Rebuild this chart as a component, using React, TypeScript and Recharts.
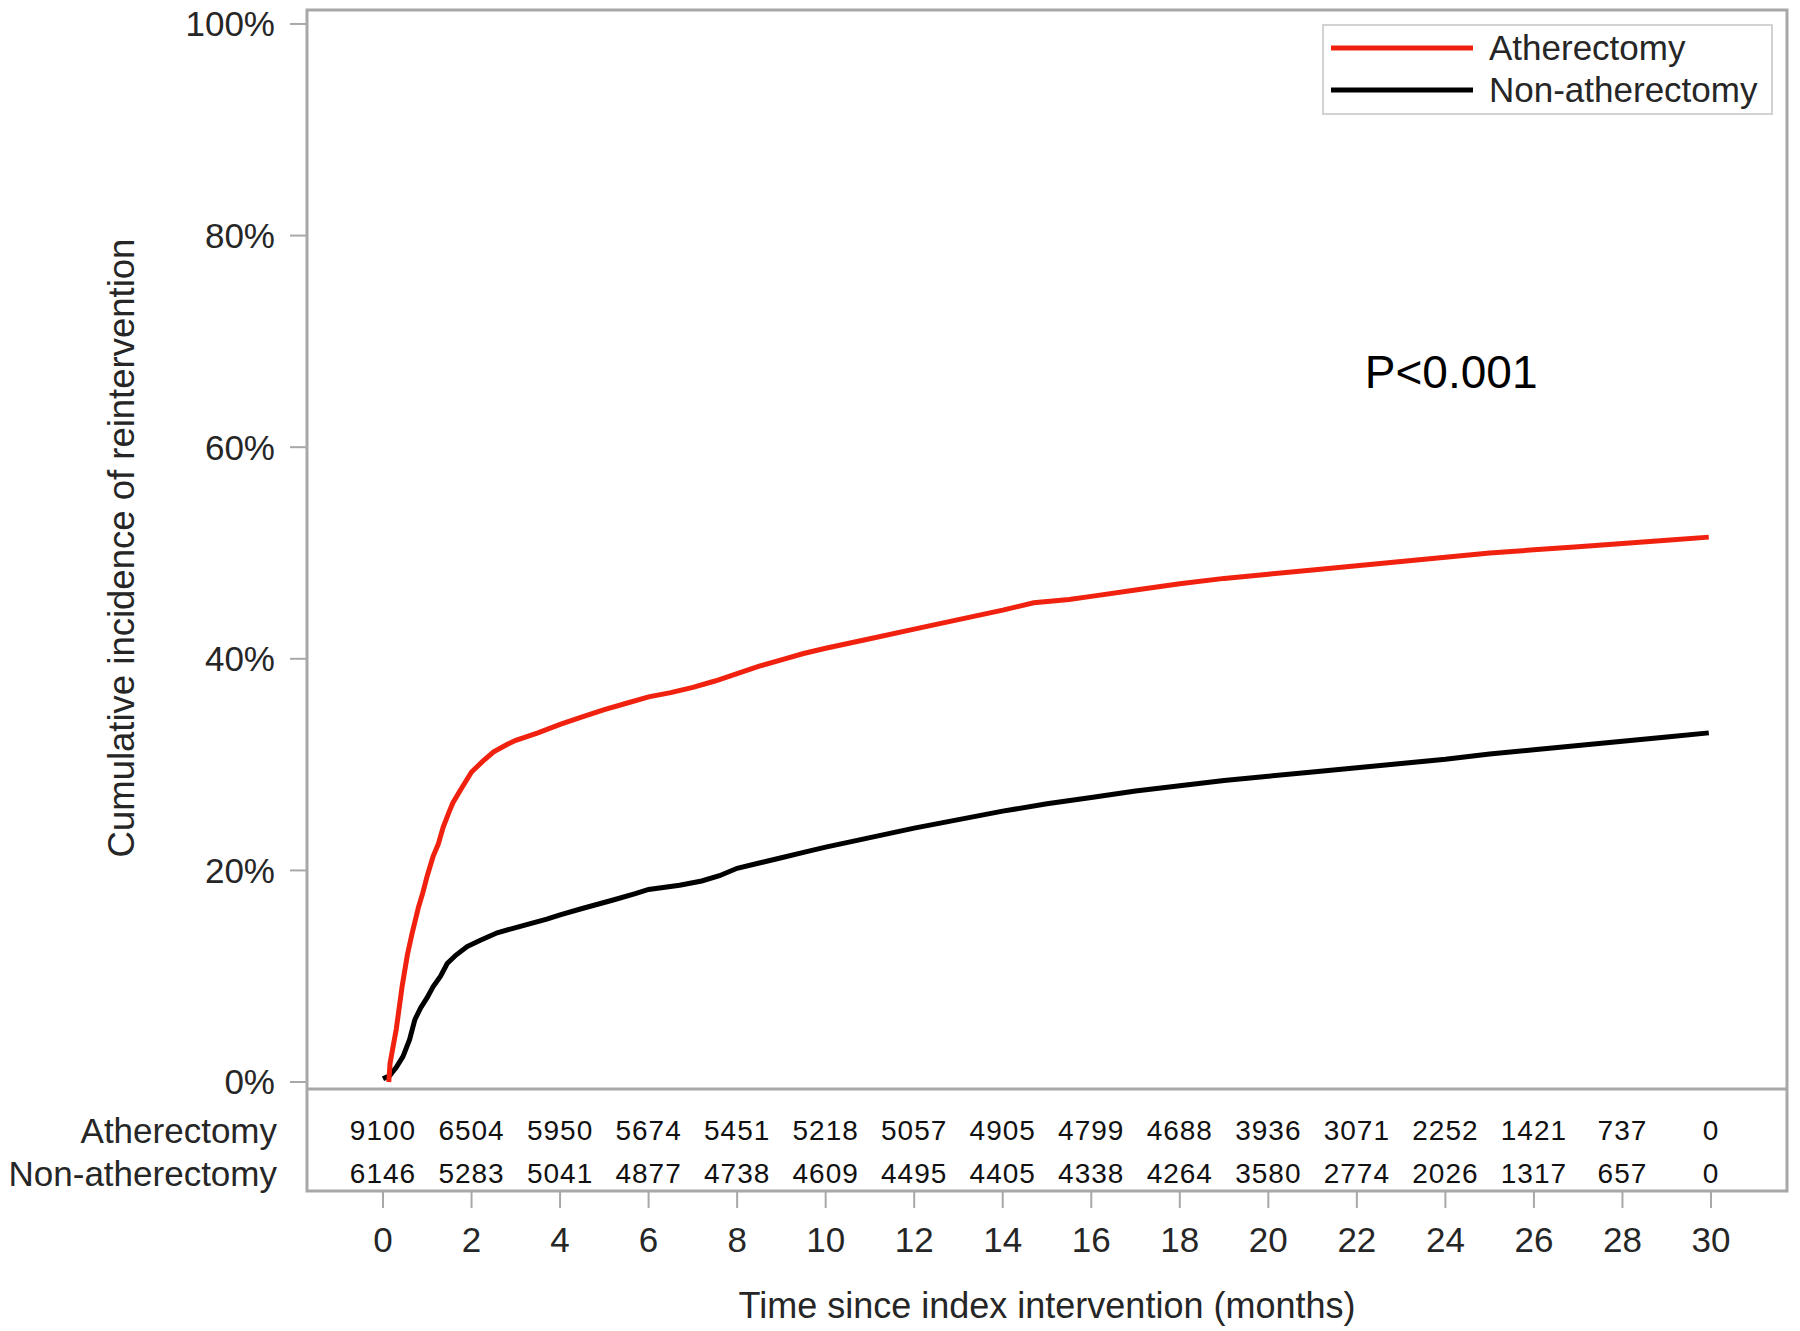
import React from "react";
import {
  ComposedChart,
  Line,
  XAxis,
  YAxis,
  Label,
  Legend,
  ReferenceArea,
  ReferenceLine,
  ReferenceDot,
} from "recharts";

// cumulative incidence curves (months, %)
const athTime = [0.13, 0.16, 0.3, 0.43, 0.55, 0.66, 0.8, 0.9, 1.0, 1.13, 1.25, 1.36, 1.5, 1.58, 1.75, 2.0, 2.25, 2.5, 2.8, 3.0, 3.5, 4, 4.5, 5, 5.5, 6, 6.5, 7, 7.5, 8, 8.5, 9, 9.5, 10, 11, 12, 13, 14, 14.7, 15.5, 16, 17, 18, 19, 20, 21, 22, 23, 24, 25, 26, 27, 28, 29, 29.95];
const athPct = [0.0, 1.8, 5.0, 9.0, 12.0, 14.1, 16.5, 17.9, 19.5, 21.3, 22.5, 24.1, 25.6, 26.4, 27.6, 29.3, 30.3, 31.2, 31.9, 32.3, 33.0, 33.8, 34.5, 35.2, 35.8, 36.4, 36.8, 37.3, 37.9, 38.6, 39.3, 39.9, 40.5, 41.0, 41.9, 42.8, 43.7, 44.6, 45.3, 45.6, 45.9, 46.5, 47.1, 47.6, 48.0, 48.4, 48.8, 49.2, 49.6, 50.0, 50.3, 50.6, 50.9, 51.2, 51.5];

const nonTime = [0, 0.15, 0.3, 0.45, 0.6, 0.72, 0.85, 1.0, 1.13, 1.3, 1.45, 1.65, 1.9, 2.2, 2.58, 3.0, 3.7, 4.0, 4.5, 5.2, 5.7, 6.0, 6.7, 7.2, 7.6, 8, 8.5, 9, 9.5, 10, 11, 12, 13, 14, 15, 16, 17, 18, 19, 20, 21, 22, 23, 24, 25, 26, 27, 28, 29, 29.95];
const nonPct = [0.3, 0.6, 1.4, 2.4, 4.0, 5.9, 7.0, 8.0, 9.0, 10.0, 11.2, 12.0, 12.8, 13.4, 14.1, 14.6, 15.4, 15.8, 16.4, 17.2, 17.8, 18.2, 18.6, 19.0, 19.5, 20.2, 20.7, 21.2, 21.7, 22.2, 23.1, 24.0, 24.8, 25.6, 26.3, 26.9, 27.5, 28.0, 28.5, 28.9, 29.3, 29.7, 30.1, 30.5, 31.0, 31.4, 31.8, 32.2, 32.6, 33.0];

// number at risk
const riskTimes = [0, 2, 4, 6, 8, 10, 12, 14, 16, 18, 20, 22, 24, 26, 28, 30];
const athRisk = [9100, 6504, 5950, 5674, 5451, 5218, 5057, 4905, 4799, 4688, 3936, 3071, 2252, 1421, 737, 0];
const nonRisk = [6146, 5283, 5041, 4877, 4738, 4609, 4495, 4405, 4338, 4264, 3580, 2774, 2026, 1317, 657, 0];

const yTicks = [0, 0.2, 0.4, 0.6, 0.8, 1];
const xTicks = riskTimes;

const FONT = "'Liberation Sans', Arial, Helvetica, sans-serif";
const FRAME = "#a8a8a8";
const RED = "#f0220f";
const TEXT = "#262626";

// axis ranges so the frame covers plot + at-risk table
const X_MIN = -1.717;
const X_MAX = 31.717;
const Y_MIN = -0.103;
const Y_MAX = 1.0132;
const DIVIDER = -0.0066;
const ROW_ATH = -0.0454;
const ROW_NON = -0.086;

const athData = athTime.map((t, i) => ({ t, v: athPct[i] / 100 }));
const nonData = nonTime.map((t, i) => ({ t, v: nonPct[i] / 100 }));

const LegendBox = () => (
  <div
    style={{
      width: 451,
      height: 91,
      boxSizing: "border-box",
      border: "2px solid #d2d2d2",
      background: "#fff",
      fontFamily: FONT,
      fontSize: 35,
      color: TEXT,
      paddingTop: 1,
    }}
  >
    {[
      { name: "Atherectomy", color: RED },
      { name: "Non-atherectomy", color: "#000" },
    ].map((r) => (
      <div key={r.name} style={{ display: "flex", alignItems: "center", height: 42 }}>
        <svg width={142} height={10} style={{ marginLeft: 7, marginRight: 16 }}>
          <line x1={0} y1={5} x2={142} y2={5} stroke={r.color} strokeWidth={5} />
        </svg>
        <span style={{ lineHeight: "42px", whiteSpace: "nowrap" }}>{r.name}</span>
      </div>
    ))}
  </div>
);

const numberLabel = (n: number) => (props: any) => (
  <text
    x={props.viewBox.x}
    y={props.viewBox.y}
    textAnchor="middle"
    dominantBaseline="central"
    fontFamily={FONT}
    fontSize={28}
    letterSpacing={1}
    fill="#111"
  >
    {n}
  </text>
);

const rowLabel = (name: string) => (props: any) => (
  <text
    x={props.viewBox.x - 30}
    y={props.viewBox.y}
    textAnchor="end"
    dominantBaseline="central"
    fontFamily={FONT}
    fontSize={35}
    fill={TEXT}
  >
    {name}
  </text>
);

export default function App() {
  return (
    <div style={{ width: 1800, height: 1331, background: "#fff" }}>
      <style>{`body{margin:0;}`}</style>
      <ComposedChart width={1800} height={1331} margin={{ top: 10, right: 13, bottom: 0, left: 0 }}>
        <XAxis
          type="number"
          dataKey="t"
          domain={[X_MIN, X_MAX]}
          ticks={xTicks}
          interval={0}
          allowDataOverflow
          height={140}
          tickSize={17}
          tickMargin={19}
          axisLine={false}
          tickLine={{ stroke: FRAME, strokeWidth: 2 }}
          tick={{ fontSize: 35, fill: TEXT, fontFamily: FONT }}
        >
          <Label
            content={() => (
              <text x={1047} y={1318} textAnchor="middle" fontFamily={FONT} fontSize={36} fill={TEXT}>
                Time since index intervention (months)
              </text>
            )}
          />
        </XAxis>
        <YAxis
          type="number"
          domain={[Y_MIN, Y_MAX]}
          ticks={yTicks}
          interval={0}
          allowDataOverflow
          width={307}
          tickSize={17}
          tickMargin={15}
          axisLine={false}
          tickLine={{ stroke: FRAME, strokeWidth: 2 }}
          tick={{ fontSize: 35, fill: TEXT, fontFamily: FONT }}
          tickFormatter={(v: number) => `${Math.round(v * 100)}%`}
        >
          <Label
            content={() => (
              <text
                x={121}
                y={548}
                transform="rotate(-90 121 548)"
                textAnchor="middle"
                dominantBaseline="central"
                fontFamily={FONT}
                fontSize={36.5}
                fill={TEXT}
              >
                Cumulative incidence of reintervention
              </text>
            )}
          />
        </YAxis>

        <ReferenceArea
          x1={X_MIN}
          x2={X_MAX}
          y1={Y_MIN}
          y2={Y_MAX}
          fill="none"
          fillOpacity={0}
          stroke={FRAME}
          strokeWidth={3}
          ifOverflow="visible"
        />
        <ReferenceLine y={DIVIDER} stroke={FRAME} strokeWidth={3} ifOverflow="visible" />

        <Line
          data={nonData}
          dataKey="v"
          name="Non-atherectomy"
          type="linear"
          stroke="#000"
          strokeWidth={5}
          dot={false}
          isAnimationActive={false}
        />
        <Line
          data={athData}
          dataKey="v"
          name="Atherectomy"
          type="linear"
          stroke={RED}
          strokeWidth={5}
          dot={false}
          isAnimationActive={false}
        />

        <ReferenceDot
          x={22.18}
          y={0.656}
          r={0}
          ifOverflow="visible"
          label={(props: any) => (
            <text x={props.viewBox.x} y={props.viewBox.y} fontFamily={FONT} fontSize={46} fill="#000">
              P&lt;0.001
            </text>
          )}
        />

        <ReferenceDot x={X_MIN} y={ROW_ATH} r={0} ifOverflow="visible" label={rowLabel("Atherectomy")} />
        <ReferenceDot x={X_MIN} y={ROW_NON} r={0} ifOverflow="visible" label={rowLabel("Non-atherectomy")} />
        {riskTimes.map((t, i) => (
          <ReferenceDot key={"a" + t} x={t} y={ROW_ATH} r={0} ifOverflow="visible" label={numberLabel(athRisk[i])} />
        ))}
        {riskTimes.map((t, i) => (
          <ReferenceDot key={"n" + t} x={t} y={ROW_NON} r={0} ifOverflow="visible" label={numberLabel(nonRisk[i])} />
        ))}

        <Legend
          layout="vertical"
          align="center"
          verticalAlign="middle"
          content={() => <LegendBox />}
          wrapperStyle={{ top: 24, left: 1322, width: 451, height: 91 }}
        />
      </ComposedChart>
    </div>
  );
}
